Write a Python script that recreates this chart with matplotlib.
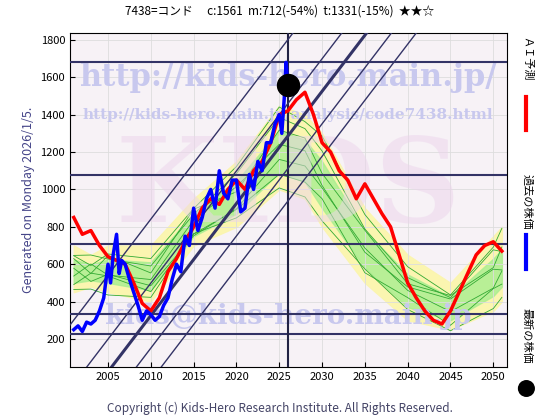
import matplotlib
matplotlib.use("Agg")
import matplotlib.pyplot as plt
import numpy as np

plt.rcParams['font.family'] = ['Noto Sans CJK JP', 'DejaVu Sans']

blue_x = [2001,2001.5,2002,2002.5,2003,2003.5,2004,2004.5,2005,2005.3,2005.6,2006,2006.3,2006.6,2007,2007.5,2008,2008.5,2009,2009.5,2010,2010.5,2011,2011.5,2012,2012.5,2013,2013.5,2014,2014.5,2015,2015.5,2016,2016.5,2017,2017.5,2018,2018.5,2019,2019.5,2020,2020.5,2021,2021.5,2022,2022.5,2023,2023.5,2024,2024.5,2025,2025.3,2025.6,2025.8,2026]
blue_y = [250,270,240,290,280,300,350,420,600,500,650,760,550,620,600,520,450,380,300,350,330,300,320,380,420,520,600,560,750,700,900,780,850,950,1000,900,1100,980,950,1050,1050,880,900,1080,1000,1150,1100,1250,1250,1350,1400,1300,1500,1680,1561]
red_x = list(range(2001, 2052))
red_y = [850,760,780,700,640,620,600,500,390,350,420,560,630,720,800,900,950,920,1000,1050,1000,1100,1150,1250,1400,1420,1480,1520,1400,1250,1200,1100,1050,950,1030,950,870,800,650,500,420,350,300,280,350,450,550,650,700,720,670]
band_x = [2001,2003,2005,2010,2015,2020,2025,2028,2030,2035,2040,2045,2050,2051]
band_hi = [700,650,700,700,950,1150,1450,1400,1300,900,650,500,750,800]
band_lo = [450,480,450,400,700,800,1000,950,800,500,300,250,350,400]
hlines = [1680,1075,710,335,225]
diag_offsets = [-3.35, 2.35, 5.25, 8.15, 11.05]

fig = plt.figure(figsize=(5.6,4.2), dpi=100)
ax = fig.add_axes([70/560, 1-367/420, 437/560, 334/420])
ax.set_facecolor('#f7f2f6')
ax.set_xlim(2000.56, 2051.6); ax.set_ylim(50, 1837)
ax.grid(True, color='#dddddd', lw=0.6)
bx = np.array(band_x, float); hi = np.array(band_hi, float); lo = np.array(band_lo, float)
ax.fill_between(bx, lo, hi, color='#fbf5b0', zorder=1)
ax.fill_between(bx, lo+(hi-lo)*0.2, hi-(hi-lo)*0.3, color='#a8ee90', alpha=0.8, zorder=1.5)
for f in np.linspace(0.1, 0.9, 7):
    ax.plot(bx, lo + (hi-lo)*f + 40*np.sin(bx*f*3), color='#33aa33', lw=0.6, zorder=2)
for h in hlines:
    ax.axhline(h, color='#333366', lw=1.5, zorder=3)
ax.axvline(2026, color='#222244', lw=1.5, zorder=3)
xs = np.array([2000, 2052])
for o in diag_offsets:
    ax.plot(xs, 60*(xs-2026-o)+1600, color='#333366', lw=2.2 if o == 5.25 else 1, zorder=3)
ax.text(2026, 1600, 'http://kids-hero.main.jp/', fontsize=22, color='#c8c8ee', ha='center', va='center', family='DejaVu Serif', weight='bold', zorder=2.5)
ax.text(2026, 1400, 'http://kids-hero.main.jp/analysis/code7438.html', fontsize=11, color='#c8c8ee', ha='center', va='center', family='DejaVu Serif', weight='bold', zorder=2.5)
ax.text(2026, 1000, 'KIDS', fontsize=85, color='#ecd4ec', ha='center', va='center', family='DejaVu Serif', weight='bold', alpha=0.5, zorder=2.5)
ax.text(2026, 320, 'kids@kids-hero.main.jp', fontsize=20, color='#c8c8ee', ha='center', va='center', family='DejaVu Serif', weight='bold', zorder=2.5)
ax.plot(red_x, red_y, color='#ff0000', lw=2.5, zorder=4)
ax.plot(blue_x, blue_y, color='#0000ff', lw=2.5, zorder=5)
ax.scatter([2026], [1561], s=250, color='black', zorder=6)
ax.set_xticks([2005,2010,2015,2020,2025,2030,2035,2040,2045,2050])
ax.set_yticks(range(200, 1801, 200))
ax.tick_params(labelsize=8, direction='in')
ax.set_ylabel('Generated on Monday 2026/1/5.', color='#444488', fontsize=9)
fig.text(0.5, 0.965, '7438=コンド　 c:1561  m:712(-54%)  t:1331(-15%)  ★★☆', ha='center', fontsize=8.5)
fig.text(0.5, 0.018, 'Copyright (c) Kids-Hero Research Institute. All Rights Reserved.', ha='center', fontsize=8.5, color='#444466')
fig.text(0.94, 0.86, 'ＡＩ予測', rotation=270, fontsize=8, va='center', ha='center')
fig.add_artist(plt.Line2D([0.94,0.94],[0.69,0.77], color='red', lw=3))
fig.text(0.94, 0.52, '過去の株価', rotation=270, fontsize=8, va='center', ha='center')
fig.add_artist(plt.Line2D([0.94,0.94],[0.36,0.44], color='blue', lw=3))
fig.text(0.94, 0.2, '最新の株価', rotation=270, fontsize=8, va='center', ha='center')
fig.add_artist(matplotlib.patches.Ellipse((0.94, 0.075), 0.028, 0.037, transform=fig.transFigure, color='black'))
fig.savefig('out.png', dpi=100)
